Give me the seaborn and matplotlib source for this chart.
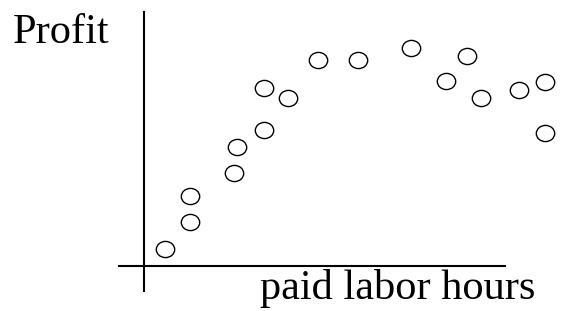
import numpy as np
import pandas as pd
import matplotlib
matplotlib.use("Agg")
import matplotlib.pyplot as plt
from matplotlib.path import Path
from matplotlib.transforms import Affine2D
import seaborn as sns

# Data (arbitrary units, origin at the axis crossing)
labor_hours = [2.15, 4.6, 4.6, 9.0, 9.3, 12.0, 12.0, 14.4, 17.4, 21.4,
               26.7, 30.2, 32.3, 33.7, 37.5, 40.1, 40.1]
profit = [1.7, 4.4, 7.0, 9.3, 11.9, 13.6, 17.8, 16.8, 20.6, 20.6,
          21.8, 18.5, 21.0, 16.8, 17.6, 18.4, 13.3]

df = pd.DataFrame({"hours": labor_hours, "profit": profit})

sns.set_style("white")
plt.rcParams["font.family"] = ["Liberation Serif", "DejaVu Serif"]

fig = plt.figure(figsize=(5.61, 3.11), dpi=100)
ax = fig.add_axes([0, 0, 1, 1])

# slightly flattened circle, like the hand-drawn markers
ellipse = Path.unit_circle().transformed(Affine2D().scale(1.0, 0.88))

sns.scatterplot(data=df, x="hours", y="profit", ax=ax, marker=ellipse,
                s=175, facecolor="white", edgecolor="black", linewidth=1.0)

ax.set_xlim(-14.35, 41.75)
ax.set_ylim(-4.53, 26.57)

# axes drawn as crossing lines
for side in ["top", "right"]:
    ax.spines[side].set_visible(False)
ax.spines["left"].set_position(("data", 0))
ax.spines["bottom"].set_position(("data", 0))
ax.spines["left"].set_bounds(-2.5, 25.4)
ax.spines["bottom"].set_bounds(-2.45, 36.15)
for side in ["left", "bottom"]:
    ax.spines[side].set_linewidth(1.5)
    ax.spines[side].set_color("black")

ax.set_xticks([])
ax.set_yticks([])
ax.set_xlabel("")
ax.set_ylabel("")

fig.text(13 / 561, 1 - 43 / 311, "Profit", fontsize=30.5, color="black",
         va="baseline", ha="left")
fig.text(260 / 561, 1 - 299 / 311, "paid labor hours", fontsize=30.5,
         color="black", va="baseline", ha="left")

fig.savefig("out.png", dpi=100, facecolor="white")
